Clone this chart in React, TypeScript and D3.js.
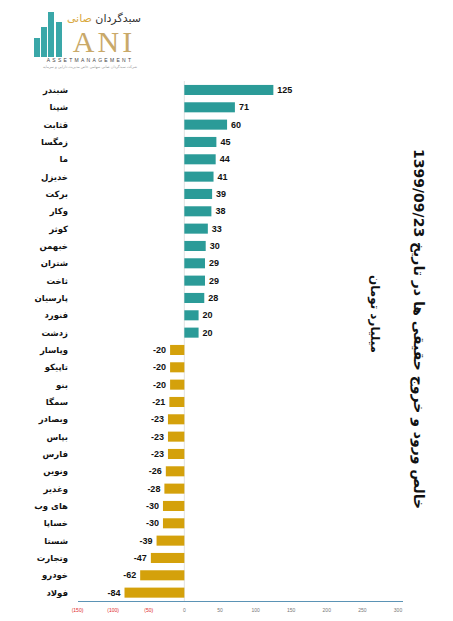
import React, { useEffect, useRef } from "react";
import * as d3 from "d3";

const categories = [
  "شبندر", "شپنا", "قثابت", "زمگسا", "ما", "خدیزل", "برکت", "وکار", "کوثر", "خبهمن",
  "شتران", "ثاخت", "پارسیان", "فنورد", "زدشت",
  "وپاسار", "تاپیکو", "بنو", "سمگا", "وبصادر", "بپاس", "فارس", "ونوین", "وغدیر", "های وب",
  "خساپا", "شستا", "وتجارت", "خودرو", "فولاد",
];
const values = [
  125, 71, 60, 45, 44, 41, 39, 38, 33, 30,
  29, 29, 28, 20, 20,
  -20, -20, -20, -21, -23, -23, -23, -26, -28, -30,
  -30, -39, -47, -62, -84,
];
const tickValues = [-150, -100, -50, 0, 50, 100, 150, 200, 250, 300];
const titleLine1 = "خالص ورود و خروج حقیقی ها در تاریخ 1399/09/23";
const titleLine2 = "میلیارد تومان";
const logoBars = [
  { x: 34, top: 38 },
  { x: 41, top: 27 },
  { x: 48, top: 12 },
  { x: 56, top: 22 },
];

const W = 453;
const H = 621;
const POS = "#2b9b98";
const NEG = "#d4a10b";

export default function App() {
  const ref = useRef<SVGSVGElement>(null);

  useEffect(() => {
    document.body.style.margin = "0";
    const svg = d3.select(ref.current);
    svg.selectAll("*").remove();

    const x = d3.scaleLinear().domain([-150, 300]).range([77.5, 398]);
    const y = d3
      .scaleBand<string>()
      .domain(categories)
      .range([81.3, 601.3])
      .paddingInner(0.42)
      .paddingOuter(0.21);

    const data = categories.map((c, i) => ({ c, v: values[i] }));

    // logo
    const logo = svg.append("g");
    logo
      .selectAll("rect")
      .data(logoBars)
      .join("rect")
      .attr("x", (d) => d.x)
      .attr("y", (d) => d.top)
      .attr("width", 6)
      .attr("height", (d) => 57 - d.top)
      .attr("fill", "#3aa7a8");
    logo
      .append("text")
      .attr("x", 104)
      .attr("y", 52)
      .attr("text-anchor", "middle")
      .attr("font-family", "Liberation Serif, DejaVu Serif, serif")
      .attr("font-size", 30)
      .attr("letter-spacing", 3)
      .attr("fill", "#c9a969")
      .text("ANI");
    logo
      .append("text")
      .attr("x", 141)
      .attr("y", 22)
      .attr("text-anchor", "start")
      .attr("font-family", "DejaVu Sans, sans-serif")
      .attr("font-size", 11)
      .attr("direction", "rtl")
      .attr("fill", "#333")
      .text("سبدگردان ")
      .append("tspan")
      .attr("fill", "#d9a93f")
      .text("صانی");
    logo
      .append("text")
      .attr("x", 90)
      .attr("y", 61.5)
      .attr("text-anchor", "middle")
      .attr("font-family", "Liberation Sans, sans-serif")
      .attr("font-size", 5)
      .attr("letter-spacing", 2.3)
      .attr("fill", "#444")
      .text("ASSETMANAGEMENT");
    logo
      .append("text")
      .attr("x", 90)
      .attr("y", 67.5)
      .attr("text-anchor", "middle")
      .attr("font-family", "DejaVu Sans, sans-serif")
      .attr("font-size", 3.6)
      .attr("fill", "#999")
      .attr("direction", "rtl")
      .text("شرکت سبدگردان صانی سهامی خاص مدیریت دارایی و سرمایه");

    // zero line
    svg
      .append("line")
      .attr("x1", x(0))
      .attr("x2", x(0))
      .attr("y1", 81)
      .attr("y2", 601.5)
      .attr("stroke", "#d9d9d9")
      .attr("stroke-width", 0.8);

    // bars
    svg
      .append("g")
      .selectAll("rect")
      .data(data)
      .join("rect")
      .attr("x", (d) => x(Math.min(0, d.v)))
      .attr("y", (d) => y(d.c)!)
      .attr("width", (d) => Math.abs(x(d.v) - x(0)))
      .attr("height", y.bandwidth())
      .attr("fill", (d) => (d.v >= 0 ? POS : NEG));

    // value labels
    svg
      .append("g")
      .selectAll("text")
      .data(data)
      .join("text")
      .attr("x", (d) => (d.v >= 0 ? x(d.v) + 4 : x(d.v) - 4))
      .attr("y", (d) => y(d.c)! + y.bandwidth() / 2)
      .attr("dy", "0.35em")
      .attr("text-anchor", (d) => (d.v >= 0 ? "start" : "end"))
      .attr("font-family", "Liberation Sans, Arial, sans-serif")
      .attr("font-weight", "bold")
      .attr("font-size", 9)
      .attr("fill", "#111")
      .text((d) => String(d.v));

    // category labels
    svg
      .append("g")
      .selectAll("text")
      .data(data)
      .join("text")
      .attr("x", 68)
      .attr("y", (d) => y(d.c)! + y.bandwidth() / 2)
      .attr("dy", "0.35em")
      .attr("text-anchor", "end")
      .attr("font-family", "DejaVu Sans, sans-serif")
      .attr("font-weight", "bold")
      .attr("font-size", 8.5)
      .attr("fill", "#111")
      .text((d) => d.c);

    // x axis
    const axisY = 601.5;
    svg
      .append("line")
      .attr("x1", 78)
      .attr("x2", 403)
      .attr("y1", axisY)
      .attr("y2", axisY)
      .attr("stroke", "#5b93b5")
      .attr("stroke-width", 1);
    svg
      .append("g")
      .selectAll("text")
      .data(tickValues)
      .join("text")
      .attr("x", (d) => x(d))
      .attr("y", 612)
      .attr("text-anchor", "middle")
      .attr("font-family", "Liberation Sans, Arial, sans-serif")
      .attr("font-size", 5)
      .attr("fill", (d) => (d < 0 ? "#e0282a" : "#777"))
      .text((d) => (d < 0 ? `(${Math.abs(d)})` : String(d)));

    // titles (rotated)
    svg
      .append("text")
      .attr("transform", `translate(419,329) rotate(90)`)
      .attr("text-anchor", "middle")
      .attr("dominant-baseline", "central")
      .attr("direction", "rtl")
      .attr("font-family", "DejaVu Sans, sans-serif")
      .attr("font-weight", "bold")
      .attr("font-size", 14)
      .attr("fill", "#111")
      .text(titleLine1);
    svg
      .append("text")
      .attr("transform", `translate(375,314) rotate(90)`)
      .attr("text-anchor", "middle")
      .attr("dominant-baseline", "central")
      .attr("direction", "rtl")
      .attr("font-family", "DejaVu Sans, sans-serif")
      .attr("font-weight", "bold")
      .attr("font-size", 12)
      .attr("fill", "#111")
      .text(titleLine2);
  }, []);

  return (
    <svg
      ref={ref}
      width={W}
      height={H}
      style={{ position: "absolute", left: 0, top: 0, background: "#fff" }}
    />
  );
}
